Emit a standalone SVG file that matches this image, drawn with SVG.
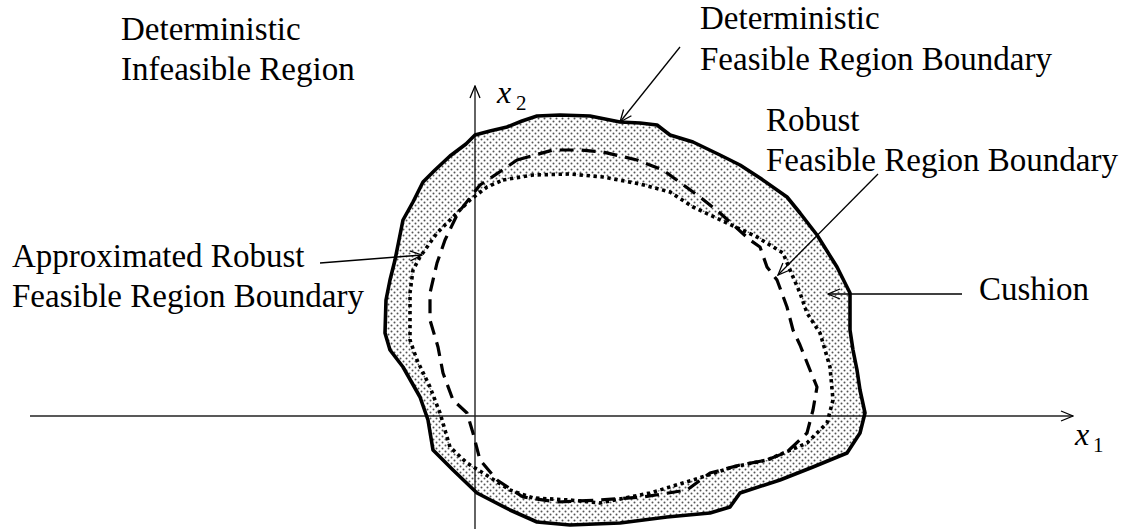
<svg xmlns="http://www.w3.org/2000/svg" width="1127" height="529" viewBox="0 0 1127 529">
<defs>
<pattern id="stip" width="6" height="6" patternUnits="userSpaceOnUse">
<rect width="6" height="6" fill="#fff"/>
<circle cx="1.5" cy="1.5" r="1" fill="#555"/>
<circle cx="4.5" cy="4.5" r="1" fill="#555"/>
</pattern>
<marker id="arr" viewBox="-14 -7 15 14" refX="0" refY="0" markerWidth="15" markerHeight="14" markerUnits="userSpaceOnUse" orient="auto">
<path d="M-12,-5 L0,0 L-12,5" fill="none" stroke="#000" stroke-width="1.3"/>
</marker>
</defs>
<style>
.t{font-family:"Liberation Serif","Times New Roman",serif;font-size:33px;fill:#000}
.v{font-family:"Liberation Serif","Times New Roman",serif;font-style:italic;font-size:32px;fill:#000}
.s{font-family:"Liberation Serif","Times New Roman",serif;font-size:21px;fill:#000}
.ax{stroke:#222;stroke-width:1.4;fill:none}
.lead{stroke:#000;stroke-width:1.3;fill:none}
.outer{fill:none;stroke:#000;stroke-width:3.6;stroke-linejoin:round}
.dash{fill:none;stroke:#000;stroke-width:3.2;stroke-dasharray:14 8;stroke-linejoin:round}
.dot{fill:none;stroke:#000;stroke-width:3.6;stroke-dasharray:3.4 3.6;stroke-linejoin:round}
</style>
<g id="cushion">
<path fill="url(#stip)" fill-rule="evenodd" d="M475,135 L490,131 L507,127 L522,121 L537,116 L560,115 L590,116 L620,122 L640,123 L657,125 L670,135 L693,142 L720,155 L740,165 L760,178 L787,197 L800,213 L817,235 L837,267 L850,293 L850,330 L853,350 L857,370 L860,390 L865,413 L860,433 L847,453 L830,460 L813,467 L780,480 L740,493 L730,507 L710,513 L667,517 L620,523 L570,525 L537,522 L510,510 L477,493 L453,470 L433,450 L428,420 L420,397 L403,367 L390,350 L385,333 L386,300 L390,280 L395,260 L398,245 L403,220 L413,202 L423,182 L435,170 L450,156 L466,144 Z M503,180 L533,175 L570,174 L603,177 L640,184 L670,192 L693,207 L727,223 L757,237 L783,253 L790,270 L800,293 L807,313 L820,333 L830,367 L833,400 L827,423 L807,443 L767,460 L733,467 L693,480 L650,493 L600,503 L570,500 L533,498 L510,490 L483,473 L467,463 L450,447 L440,413 L430,387 L417,360 L410,340 L410,293 L413,270 L420,257 L437,233 L453,217 L470,200 L487,187 Z"/>
</g>
<g id="axes">
<line class="ax" x1="30" y1="416" x2="1073" y2="416" marker-end="url(#arr)"/>
<line class="ax" x1="475" y1="529" x2="475" y2="86" marker-end="url(#arr)"/>
<text class="v" x="1075" y="445">x</text><text class="s" x="1093" y="452">1</text>
<text class="v" x="497" y="103">x</text><text class="s" x="516" y="110">2</text>
</g>
<g id="deterministic-boundary">
<path class="outer" d="M475,135 L490,131 L507,127 L522,121 L537,116 L560,115 L590,116 L620,122 L640,123 L657,125 L670,135 L693,142 L720,155 L740,165 L760,178 L787,197 L800,213 L817,235 L837,267 L850,293 L850,330 L853,350 L857,370 L860,390 L865,413 L860,433 L847,453 L830,460 L813,467 L780,480 L740,493 L730,507 L710,513 L667,517 L620,523 L570,525 L537,522 L510,510 L477,493 L453,470 L433,450 L428,420 L420,397 L403,367 L390,350 L385,333 L386,300 L390,280 L395,260 L398,245 L403,220 L413,202 L423,182 L435,170 L450,156 L466,144 Z"/>
</g>
<g id="robust-boundary">
<path class="dash" d="M517,160 L553,150 L580,150 L603,152 L637,160 L663,170 L700,197 L720,213 L750,240 L760,247 L767,267 L777,280 L787,307 L793,330 L800,345 L810,370 L817,387 L813,410 L807,433 L787,452 L767,460 L740,465 L710,473 L687,490 L643,497 L600,500 L557,502 L523,497 L497,480 L480,460 L473,433 L467,413 L453,400 L443,373 L438,347 L430,320 L430,293 L437,263 L445,240 L458,213 L480,185 L507,167 Z"/>
</g>
<g id="approx-robust-boundary">
<path class="dot" d="M503,180 L533,175 L570,174 L603,177 L640,184 L670,192 L693,207 L727,223 L757,237 L783,253 L790,270 L800,293 L807,313 L820,333 L830,367 L833,400 L827,423 L807,443 L767,460 L733,467 L693,480 L650,493 L600,503 L570,500 L533,498 L510,490 L483,473 L467,463 L450,447 L440,413 L430,387 L417,360 L410,340 L410,293 L413,270 L420,257 L437,233 L453,217 L470,200 L487,187 Z"/>
</g>
<g id="labels">
<text class="t" x="121" y="40">Deterministic</text>
<text class="t" x="121" y="80">Infeasible Region</text>
<text class="t" x="700" y="29">Deterministic</text>
<text class="t" x="700" y="70">Feasible Region Boundary</text>
<text class="t" x="766" y="131">Robust</text>
<text class="t" x="766" y="171">Feasible Region Boundary</text>
<text class="t" x="12" y="267">Approximated Robust</text>
<text class="t" x="12" y="307">Feasible Region Boundary</text>
<text class="t" x="979" y="300">Cushion</text>
</g>
<g id="connectors">
<line class="lead" x1="680" y1="47" x2="620" y2="122" marker-end="url(#arr)"/>
<line class="lead" x1="878" y1="174" x2="778" y2="275" marker-end="url(#arr)"/>
<line class="lead" x1="320" y1="263" x2="422" y2="255" marker-end="url(#arr)"/>
<line class="lead" x1="962" y1="294" x2="828" y2="294" marker-end="url(#arr)"/>
</g>
</svg>
